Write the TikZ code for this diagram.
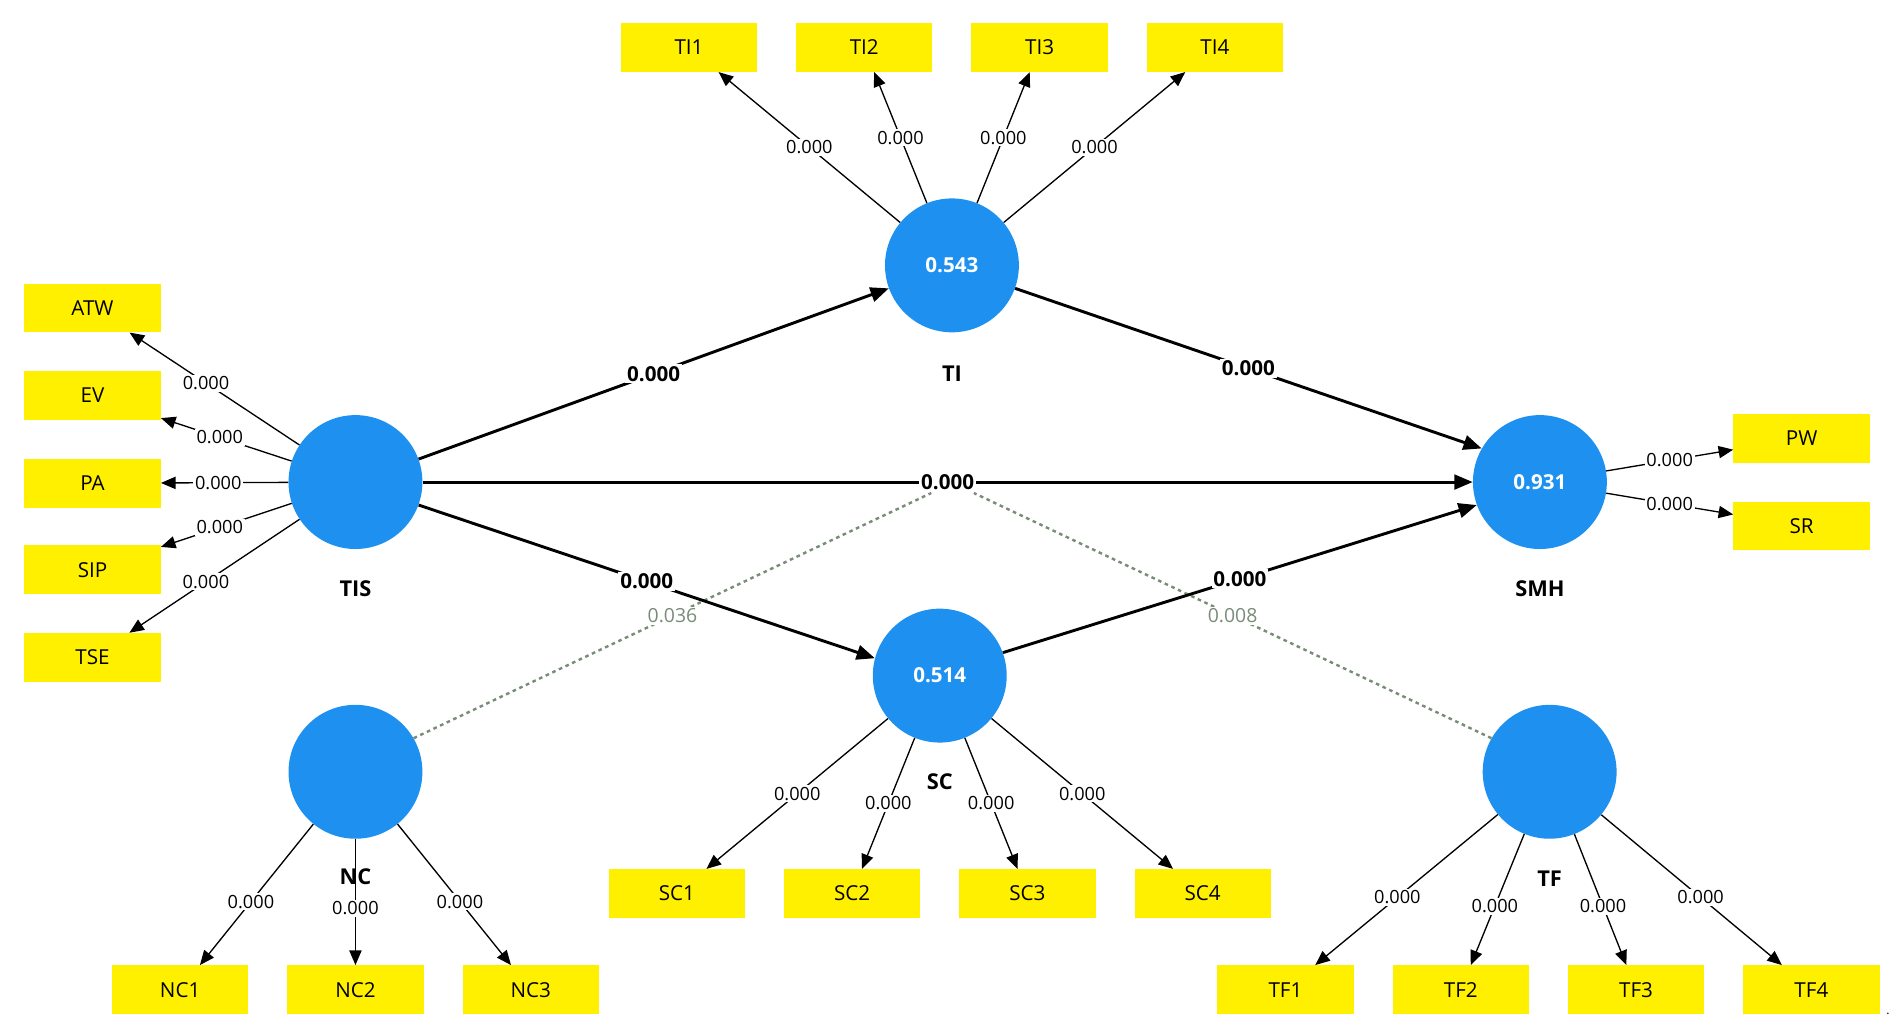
\documentclass[tikz,border=0pt]{standalone}
\usepackage{fontspec}
\setmainfont{Open Sans}
\usetikzlibrary{arrows.meta}
\definecolor{lvc}{RGB}{30,144,240}
\definecolor{ind}{RGB}{255,240,0}
\definecolor{dashc}{RGB}{120,140,120}
\begin{document}
\begin{tikzpicture}[x=1bp,y=-1bp,
 lv/.style={circle,fill=lvc,minimum size=110bp,inner sep=0,text=white,font=\fontsize{17}{17}\selectfont\bfseries},
 box/.style={rectangle,fill=ind,minimum width=112bp,minimum height=40bp,inner sep=0,font=\fontsize{17}{17}\selectfont},
 nm/.style={font=\fontsize{18}{18}\selectfont\bfseries},
 load/.style={-{Triangle[length=12bp,width=10bp]},line width=1.1pt},
 path/.style={-{Triangle[length=15bp,width=12bp]},line width=2.4pt},
 lab/.style={fill=white,inner sep=1.5pt,font=\fontsize{15}{15}\selectfont},
 blab/.style={fill=white,inner sep=1.5pt,font=\fontsize{17}{17}\selectfont\bfseries},
 dl/.style={draw=dashc,line width=2pt,dash pattern=on 3bp off 3bp},
 dlab/.style={text=dashc,fill=white,inner sep=1.5pt,font=\fontsize{16}{16}\selectfont}]
\useasboundingbox (0,0) rectangle (1560,848);
\node[lv] (TI) at (782,218) {0.543};
\node[lv] (TIS) at (292,396) {};
\node[lv] (SMH) at (1265,396) {0.931};
\node[lv] (SC) at (772,555) {0.514};
\node[lv] (NC) at (292,634) {};
\node[lv] (TF) at (1273,634) {};
\node[nm] (nTI) at (782,307) {TI};
\node[nm] (nTIS) at (292,484) {TIS};
\node[nm] (nSMH) at (1265,484) {SMH};
\node[nm] (nSC) at (772,642) {SC};
\node[nm] (nNC) at (292,720) {NC};
\node[nm] (nTF) at (1273,722) {TF};
\foreach \n/\x/\y in {TI1/566/39,TI2/710/39,TI3/854/39,TI4/998/39,ATW/76/253,EV/76/325,PA/76/397,SIP/76/468,TSE/76/540,PW/1480/360,SR/1480/432,SC1/556/734,SC2/700/734,SC3/844/734,SC4/988/734,NC1/148/813,NC2/292/813,NC3/436/813,TF1/1056/813,TF2/1200/813,TF3/1344/813,TF4/1488/813}
  \node[box] (\n) at (\x,\y) {\n};
\node (dot) at (1551,833) {.};
% dashed moderators
\coordinate (m1) at (765,405);
\coordinate (m2) at (800,405);
\draw[dl] (NC.30) -- (m1) node[pos=0.5,dlab] {0.036};
\draw[dl] (TF.150) -- (m2) node[pos=0.5,dlab] {0.008};
% structural paths
\draw[path] (TIS.20) -- (TI.200) node[pos=0.5,blab] {0.000};
\draw[path] (TI.-20) -- (SMH.150) node[pos=0.5,blab] {0.000};
\draw[path] (TIS) -- (SMH) node[pos=0.5,blab] {0.000};
\draw[path] (TIS.-20) -- (SC.165) node[pos=0.5,blab] {0.000};
\draw[path] (SC.20) -- (SMH.-160) node[pos=0.5,blab] {0.000};
% loadings
\foreach \b in {TI1,TI2,TI3,TI4} \draw[load] (TI) -- (\b) node[pos=0.5,lab] {0.000};
\foreach \b in {ATW,EV,PA,SIP,TSE} \draw[load] (TIS) -- (\b) node[pos=0.55,lab] {0.000};
\foreach \b in {PW,SR} \draw[load] (SMH) -- (\b) node[pos=0.5,lab] {0.000};
\foreach \b in {SC1,SC2,SC3,SC4} \draw[load] (SC) -- (\b) node[pos=0.5,lab] {0.000};
\foreach \b in {NC1,NC2,NC3} \draw[load] (NC) -- (\b) node[pos=0.55,lab] {0.000};
\foreach \b in {TF1,TF2,TF3,TF4} \draw[load] (TF) -- (\b) node[pos=0.55,lab] {0.000};
\end{tikzpicture}
\end{document}
